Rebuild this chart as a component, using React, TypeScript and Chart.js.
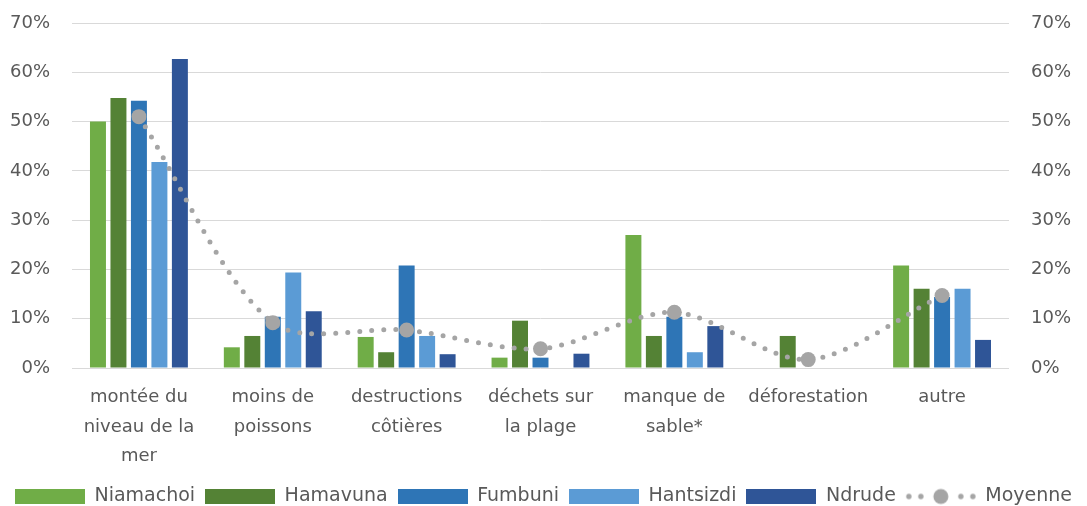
import React, { useEffect, useRef } from "react";
import { Chart, registerables } from "chart.js";

Chart.register(...registerables);

const categories = [
  ["montée du", "niveau de la", "mer"],
  ["moins de", "poissons"],
  ["destructions", "côtières"],
  ["déchets sur", "la plage"],
  ["manque de", "sable*"],
  ["déforestation"],
  ["autre"],
];

const niamachoi = [50.0, 4.2, 6.3, 2.1, 27.0, 0, 20.8];
const hamavuna = [54.8, 6.5, 3.2, 9.6, 6.5, 6.5, 16.1];
const fumbuni = [54.2, 10.4, 20.8, 2.1, 10.4, 0, 14.4];
const hantsizdi = [41.8, 19.4, 6.5, 0, 3.2, 0, 16.1];
const ndrude = [62.7, 11.5, 2.8, 2.9, 8.5, 0, 5.7];
const moyenne = [51.0, 9.2, 7.7, 3.9, 11.3, 1.7, 14.7];

const seriesNames = ["Niamachoi", "Hamavuna", "Fumbuni", "Hantsizdi", "Ndrude", "Moyenne"];
const barColors = ["#70AD47", "#548235", "#2E75B6", "#5B9BD5", "#2F5597"];
const lineColor = "#A5A5A5";

const yMin = 0;
const yMax = 70;
const yStep = 10;

const FONT = "'DejaVu Sans', sans-serif";
const TEXT = "#595959";
const GRID = "#D9D9D9";

function makeBox(color: string) {
  const c = document.createElement("canvas");
  c.width = 70;
  c.height = 15;
  const g = c.getContext("2d")!;
  g.fillStyle = color;
  g.fillRect(0, 0, 70, 15);
  return c;
}

function makeLineMarker(color: string) {
  const c = document.createElement("canvas");
  c.width = 74;
  c.height = 18;
  const g = c.getContext("2d")!;
  g.fillStyle = color;
  [5, 17, 57, 69].forEach((x) => {
    g.beginPath();
    g.arc(x, 9, 2.7, 0, Math.PI * 2);
    g.fill();
  });
  g.beginPath();
  g.arc(37, 9, 7.5, 0, Math.PI * 2);
  g.fill();
  return c;
}

export default function App() {
  const ref = useRef<HTMLCanvasElement | null>(null);

  useEffect(() => {
    if (!ref.current) return;
    const barData = [niamachoi, hamavuna, fumbuni, hantsizdi, ndrude];
    const styles: HTMLCanvasElement[] = [
      ...barColors.map((c) => makeBox(c)),
      makeLineMarker(lineColor),
    ];

    const datasets: any[] = [
      {
        type: "line",
        label: seriesNames[5],
        data: moyenne,
        yAxisID: "y",
        borderColor: lineColor,
        backgroundColor: lineColor,
        borderWidth: 5,
        borderDash: [0, 12],
        borderCapStyle: "round",
        tension: 0.3,
        fill: false,
        pointRadius: 7.5,
        pointHoverRadius: 7.5,
        pointBackgroundColor: lineColor,
        pointBorderColor: lineColor,
        pointBorderWidth: 0,
        order: 0,
      },
      ...barData.map((d, i) => ({
        type: "bar",
        label: seriesNames[i],
        data: d,
        yAxisID: "y",
        backgroundColor: barColors[i],
        borderWidth: 0,
        categoryPercentage: 0.765,
        barPercentage: 0.78,
        order: 1,
      })),
    ];

    const fitY = (w: number) => (s: any) => {
      s.width = w;
      s.paddingTop = 0;
      s.paddingBottom = 0;
    };

    const chart = new Chart(ref.current, {
      type: "bar",
      data: { labels: categories as any, datasets },
      options: {
        responsive: false,
        maintainAspectRatio: false,
        animation: false,
        layout: { padding: { top: 23, left: 0, right: 0, bottom: 0 } },
        plugins: {
          tooltip: { enabled: false },
          legend: {
            position: "bottom",
            labels: {
              usePointStyle: true,
              pointStyleWidth: 70,
              boxHeight: 15,
              padding: 10,
              color: TEXT,
              font: { family: FONT, size: 19 },
              generateLabels: () => {
                const order = [0, 1, 2, 3, 4, 5];
                return order.map((k) => ({
                  text: seriesNames[k],
                  datasetIndex: k === 5 ? 0 : k + 1,
                  hidden: false,
                  fillStyle: k === 5 ? lineColor : barColors[k],
                  strokeStyle: k === 5 ? lineColor : barColors[k],
                  lineWidth: 0,
                  pointStyle: styles[k] as any,
                  rotation: 0,
                  fontColor: TEXT,
                })) as any;
              },
            },
          },
        },
        scales: {
          x: {
            grid: { display: false, drawTicks: false },
            border: { display: false },
            ticks: {
              color: TEXT,
              font: { family: FONT, size: 18, lineHeight: 1.64 },
              padding: 15,
              maxRotation: 0,
              autoSkip: false,
            },
            afterFit: (s: any) => {
              s.height = 109;
            },
          },
          y: {
            position: "left",
            min: yMin,
            max: yMax,
            grid: { color: GRID, lineWidth: 1, drawTicks: false },
            border: { display: false },
            ticks: {
              stepSize: yStep,
              color: TEXT,
              padding: 22,
              font: { family: FONT, size: 18 },
              callback: (v: any) => v + "%",
            },
            afterFit: fitY(72),
          },
          y2: {
            position: "right",
            min: yMin,
            max: yMax,
            grid: { display: false, drawTicks: false },
            border: { display: false },
            ticks: {
              stepSize: yStep,
              color: TEXT,
              padding: 22,
              font: { family: FONT, size: 18 },
              callback: (v: any) => v + "%",
            },
            afterFit: fitY(78),
          },
        },
      },
    });
    return () => chart.destroy();
  }, []);

  return (
    <div
      style={{
        position: "fixed",
        left: 0,
        top: 0,
        width: 1087,
        height: 516,
        overflow: "hidden",
        background: "#fff",
      }}
    >
      <canvas ref={ref} width={1087} height={516} style={{ width: 1087, height: 516, display: "block" }} />
    </div>
  );
}
